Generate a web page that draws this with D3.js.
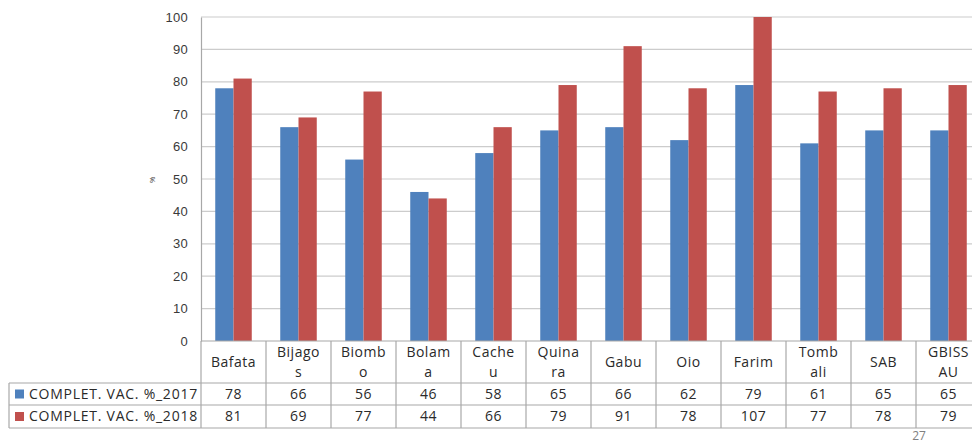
<!DOCTYPE html>
<html>
<head>
<meta charset="utf-8">
<script src="https://cdn.jsdelivr.net/npm/d3@7"></script>
<style>
  html, body { margin: 0; padding: 0; background: #fff; }
  svg { display: block; font-family: "Open Sans", "Liberation Sans", sans-serif; }
</style>
</head>
<body>
<svg id="chart" width="972" height="444"></svg>
<script>
// Regions (label lines as wrapped in the data table)
const categories = ["Bafata", "Bijagos", "Biombo", "Bolama", "Cacheu", "Quinara", "Gabu", "Oio", "Farim", "Tombali", "SAB", "GBISSAU"];
const categoryLines = [["Bafata"], ["Bijago", "s"], ["Biomb", "o"], ["Bolam", "a"], ["Cache", "u"], ["Quina", "ra"], ["Gabu"], ["Oio"], ["Farim"], ["Tomb", "ali"], ["SAB"], ["GBISS", "AU"]];
const seriesNames = ["COMPLET. VAC. %_2017", "COMPLET. VAC. %_2018"];
const values2017 = [78, 66, 56, 46, 58, 65, 66, 62, 79, 61, 65, 65];
const values2018 = [81, 69, 77, 44, 66, 79, 91, 78, 107, 77, 78, 79];
const yTicks = [0, 10, 20, 30, 40, 50, 60, 70, 80, 90, 100];
const colors = ["#4F81BD", "#C0504D"];

const svg = d3.select("#chart");
const plotLeft = 201, plotRight = 981, plotTop = 17, plotBottom = 341;
const tableLeft = 9;
const rowTops = [341, 383, 405, 428];
const textColor = "#2a2a2a";

const x = d3.scaleBand().domain(categories).range([plotLeft, plotRight]).padding(0);
const xs = d3.scaleBand().domain(seriesNames).range([0, x.bandwidth()]).paddingInner(0).paddingOuter(0.78);
const y = d3.scaleLinear().domain([0, 100]).range([plotBottom, plotTop]);

// Gridlines
svg.append("g")
  .selectAll("line").data(yTicks.filter(d => d > 0)).join("line")
  .attr("x1", plotLeft).attr("x2", plotRight)
  .attr("y1", d => y(d)).attr("y2", d => y(d))
  .attr("stroke", "#cccccc").attr("stroke-width", 1.2);

// Y axis
const yAxis = svg.append("g").attr("transform", `translate(${plotLeft},0)`)
  .call(d3.axisLeft(y).tickValues(yTicks).tickSize(0).tickPadding(13));
yAxis.select(".domain").attr("stroke", "#a8a8a8").attr("stroke-width", 1.2);
yAxis.selectAll("text").attr("font-size", 13).attr("letter-spacing", 0.3).attr("fill", "#3a3a3a");

svg.append("text")
  .attr("transform", `translate(155,180) rotate(-90)`)
  .attr("text-anchor", "middle").attr("font-size", 8).attr("fill", "#404040")
  .text("%");

// Bars (clipped to the 0–100 plot area)
svg.append("clipPath").attr("id", "plot")
  .append("rect").attr("x", plotLeft).attr("y", plotTop).attr("width", plotRight - plotLeft).attr("height", plotBottom - plotTop);

const series = [values2017, values2018];
const bars = svg.append("g").attr("clip-path", "url(#plot)");
series.forEach((vals, si) => {
  bars.append("g").selectAll("rect").data(vals).join("rect")
    .attr("x", (d, i) => x(categories[i]) + xs(seriesNames[si]))
    .attr("width", xs.bandwidth())
    .attr("y", d => y(d))
    .attr("height", d => y(0) - y(d))
    .attr("fill", colors[si]);
});

// Data table
const grid = svg.append("g").attr("stroke", "#a8a8a8").attr("stroke-width", 1.2);
grid.append("line").attr("x1", plotLeft).attr("x2", plotRight).attr("y1", plotBottom).attr("y2", plotBottom);
[rowTops[1], rowTops[2], rowTops[3]].forEach(yy => {
  grid.append("line").attr("x1", tableLeft).attr("x2", plotRight).attr("y1", yy).attr("y2", yy);
});
grid.append("line").attr("x1", tableLeft).attr("x2", tableLeft).attr("y1", rowTops[1]).attr("y2", rowTops[3]);
categories.forEach((c) => {
  grid.append("line").attr("x1", x(c)).attr("x2", x(c)).attr("y1", plotBottom).attr("y2", rowTops[3]);
});
grid.append("line").attr("x1", plotRight).attr("x2", plotRight).attr("y1", plotBottom).attr("y2", rowTops[3]);

// Category labels
const catG = svg.append("g").attr("font-size", 14).attr("letter-spacing", 0.5)
  .attr("fill", textColor).attr("text-anchor", "middle");
categories.forEach((c, i) => {
  const lines = categoryLines[i];
  const cx = x(c) + x.bandwidth() / 2;
  const mid = (rowTops[0] + rowTops[1]) / 2;
  lines.forEach((ln, k) => {
    const yy = mid + (k - (lines.length - 1) / 2) * 19.5;
    catG.append("text").attr("x", cx).attr("y", yy).attr("dy", "0.35em").text(ln);
  });
});

// Series rows with legend keys and values
series.forEach((vals, si) => {
  const mid = (rowTops[si + 1] + rowTops[si + 2]) / 2;
  svg.append("rect").attr("x", 15).attr("y", mid - 4.5).attr("width", 9).attr("height", 9).attr("fill", colors[si]);
  svg.append("text").attr("x", 29).attr("y", mid).attr("dy", "0.35em")
    .attr("font-size", 14).attr("letter-spacing", 0.75)
    .attr("fill", textColor).text(seriesNames[si]);
  svg.append("g").attr("font-size", 14).attr("letter-spacing", 0.5)
    .attr("fill", textColor).attr("text-anchor", "middle")
    .selectAll("text").data(vals).join("text")
    .attr("x", (d, i) => x(categories[i]) + x.bandwidth() / 2)
    .attr("y", mid).attr("dy", "0.35em")
    .text(d => d);
});

// Page number
svg.append("text").attr("x", 919).attr("y", 440).attr("text-anchor", "middle")
  .attr("font-size", 12).attr("fill", "#808080").text("27");
</script>
</body>
</html>
